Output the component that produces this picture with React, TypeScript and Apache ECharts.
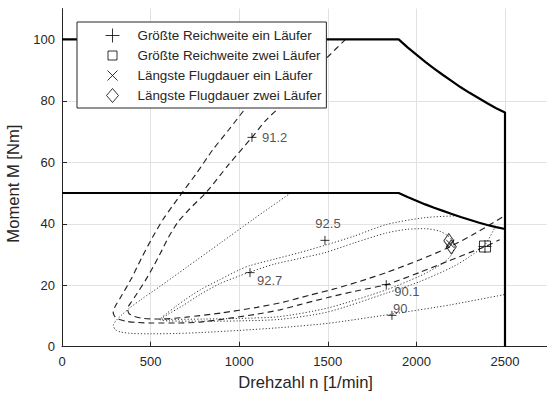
import React, { useEffect, useRef } from 'react';
import * as echarts from 'echarts';

// Axis setup
const speedMax = 2750;
const torqueMax = 110;
const xTickStep = 500;
const yTickStep = 20;
const yTickValues = [0, 20, 40, 60, 80, 100];

// Operating limits [n, M]: upper (100 Nm) and lower (50 Nm) torque envelope
const limitHigh: number[][] = [
  [0, 100], [1900, 100], [1950, 97.4], [2000, 95], [2050, 92.7], [2100, 90.5],
  [2150, 88.4], [2200, 86.4], [2250, 84.4], [2300, 82.6], [2350, 80.9],
  [2400, 79.2], [2450, 77.6], [2500, 76.2], [2500, 0],
];
const limitLow: number[][] = [
  [0, 50], [1900, 50], [1950, 48.7], [2000, 47.5], [2050, 46.3], [2100, 45.2],
  [2150, 44.2], [2200, 43.2], [2250, 42.2], [2300, 41.3], [2350, 40.4],
  [2400, 39.6], [2450, 38.9], [2500, 38.3],
];

// Efficiency contours (dashed)
const contour912: number[][] = [
  [1600, 100], [1495, 94], [1370, 86.5], [1247, 79], [1150, 73.6], [1072, 68.1],
  [940, 59.2], [818, 50.5], [720, 44.8], [655, 40.6], [600, 35.5], [565, 31.5],
  [515, 26], [470, 21.5], [420, 17], [385, 14], [370, 12.5], [378, 10.8],
  [410, 9.8], [460, 9.2], [553, 9.0], [700, 9.6], [900, 11], [1100, 12.8],
  [1250, 14.5], [1400, 16.8], [1550, 19], [1682, 21.3], [1834, 24.2],
  [2020, 28.3], [2178, 32.2], [2330, 36.8], [2500, 42.7],
];
const contour901: number[][] = [
  [1330, 100], [1190, 89], [1044, 78.2], [940, 70.5], [850, 64], [760, 56.5],
  [683, 50.5], [620, 45.5], [570, 41.4], [510, 35.5], [450, 29], [390, 22],
  [330, 16], [299, 13], [288, 11.5], [296, 10], [316, 9], [360, 8.3],
  [420, 7.9], [513, 7.7], [650, 7.7], [779, 8.0], [950, 9.3], [1100, 10.6],
  [1230, 12], [1343, 13.7], [1500, 16], [1650, 18], [1830, 20.2], [2020, 24.2],
  [2178, 27.8], [2300, 30.6], [2390, 32.6], [2470, 34.8],
];

// Efficiency contours (dotted)
const contour90: number[][] = [
  [1290, 50], [1078, 41.4], [900, 34], [700, 25.7], [550, 19.5], [450, 15.5],
  [384, 12.7], [340, 10.5], [305, 8.5], [290, 7], [300, 5.6], [330, 4.8],
  [400, 4.3], [500, 4.2], [650, 4.3], [779, 4.6], [1000, 5.3], [1230, 6.2],
  [1500, 7.6], [1860, 10.6], [2190, 13.6], [2500, 17],
];
const contour925: number[][] = [
  [2230, 42.6], [2050, 42], [1834, 39.8], [1650, 36], [1484, 33], [1340, 30.6],
  [1200, 28.5], [1061, 26.4], [1000, 25], [890, 21.8], [780, 18.5], [700, 15.5],
  [640, 13], [590, 10.8], [560, 9.4], [550, 8.9], [600, 8.4], [800, 8.3],
  [1000, 8.4], [1230, 8.9], [1500, 11.3], [1830, 17.4], [2020, 21.2],
  [2206, 26], [2300, 29.3], [2387, 33.2], [2443, 38.8],
];
const contour927: number[][] = [
  [555, 9.0], [600, 10.6], [680, 13.3], [780, 17], [890, 20.5], [1000, 23],
  [1061, 24.3], [1200, 26.9], [1340, 28.7], [1484, 30.6], [1650, 33.8],
  [1830, 37], [1950, 38.2], [2050, 38.4], [2130, 37.6], [2175, 36.2],
  [2205, 34.5], [2215, 33], [2208, 31], [2190, 29.3], [2160, 27.6],
  [2100, 25.4], [2020, 23], [1830, 18.5], [1500, 12.6], [1230, 9.8],
  [1000, 9.2], [800, 9], [600, 8.9], [555, 9.0],
];

// Contour level labels and their anchor points
const levelPoints: number[][] = [[1072, 68.1], [1484, 34.6], [1061, 24.1], [1830, 20.2], [1862, 10.2]];
const levelTexts = ['91.2', '92.5', '92.7', '90.1', '90'];

// Optimum operating points
const legendNames = [
  'Größte Reichweite ein Läufer',
  'Größte Reichweite zwei Läufer',
  'Längste Flugdauer ein Läufer',
  'Längste Flugdauer zwei Läufer',
];
const rangeOneRotor: number[][] = [[2387, 32.6]];
const rangeTwoRotors: number[][] = [[2387, 32.6]];
const enduranceOneRotor: number[][] = [[2190, 33.5]];
const enduranceTwoRotors: number[][] = [[2183, 34.5], [2197, 32.5]];

const FONT = '"Liberation Sans", Arial, Helvetica, sans-serif';
const TEXT = '#262626';

const plusSymbol = 'path://M5,0L5,10M0,5L10,5';
const crossSymbol = 'path://M0,0L10,10M10,0L0,10';

// legend icons laid out in a 40x14 box (leading moves fix the box)
const legendIcons = [
  'path://M0,0M40,14M13,7L27,7M20,0L20,14',
  'path://M0,0M40,14M15.5,2.5L24.5,2.5L24.5,11.5L15.5,11.5Z',
  'path://M0,0M40,14M15,2L25,12M25,2L15,12',
  'path://M0,0M40,14M20,0L26,7L20,14L14,7Z',
];

const labelPlacement = [
  { position: 'right', offset: [0, 0] },
  { position: 'top', offset: [3, 0] },
  { position: 'right', offset: [-3, 8] },
  { position: 'right', offset: [-2, 7] },
  { position: 'right', offset: [-9, -7] },
];

const hollow = { color: 'rgba(0,0,0,0)', borderColor: '#000', borderWidth: 1 };

function solidLine(data: number[][]) {
  return {
    type: 'line', data, symbol: 'none', silent: true, z: 4,
    lineStyle: { color: '#000', width: 2.2 },
  };
}
function dashedLine(data: number[][]) {
  return {
    type: 'line', data, symbol: 'none', silent: true, smooth: 0.25, z: 3,
    lineStyle: { color: '#222', width: 1.15, type: [6, 4] },
  };
}
function dottedLine(data: number[][]) {
  return {
    type: 'line', data, symbol: 'none', silent: true, smooth: 0.25, z: 3,
    lineStyle: { color: '#3a3a3a', width: 1, type: [1.2, 2] },
  };
}

const plainNumber = (v: number) => String(v);

export default function App() {
  const ref = useRef<HTMLDivElement>(null);

  useEffect(() => {
    if (!ref.current) return;
    const chart = echarts.init(ref.current, null, { renderer: 'svg' });

    const axisCommon = {
      type: 'value',
      axisLine: { show: true, onZero: false, lineStyle: { color: TEXT, width: 1 } },
      axisTick: { show: true, inside: true, length: 5, lineStyle: { color: TEXT } },
      splitLine: { show: true, showMaxLine: false, lineStyle: { color: '#e2e2e2', width: 1 } },
      nameLocation: 'middle',
    };

    chart.setOption({
      animation: false,
      backgroundColor: '#fff',
      grid: {
        left: 62, top: 8.6, width: 487.3, height: 338.1,
        containLabel: false, outerBoundsMode: 'none',
      },
      xAxis: {
        ...axisCommon,
        min: 0, max: speedMax, interval: xTickStep,
        name: 'Drehzahl n [1/min]', nameGap: 27,
        nameTextStyle: { color: TEXT, fontFamily: FONT, fontSize: 16.6 },
        axisLabel: {
          color: TEXT, fontFamily: FONT, fontSize: 13, margin: 8,
          showMaxLabel: false, formatter: plainNumber,
        },
      },
      yAxis: {
        ...axisCommon,
        min: 0, max: torqueMax, interval: yTickStep,
        name: 'Moment M [Nm]', nameGap: 36,
        nameTextStyle: { color: TEXT, fontFamily: FONT, fontSize: 16.6, padding: [0, 12, 0, 0] },
        axisTick: { ...axisCommon.axisTick, customValues: yTickValues },
        axisLabel: {
          color: TEXT, fontFamily: FONT, fontSize: 13, margin: 7,
          showMaxLabel: false, formatter: plainNumber,
        },
      },
      legend: {
        data: legendNames.map((name, i) => ({ name, icon: legendIcons[i] })),
        orient: 'vertical',
        left: 77, top: 22,
        padding: [6, 5, 5, 15],
        itemGap: 5,
        itemWidth: 40, itemHeight: 14,
        backgroundColor: '#fff',
        borderColor: TEXT, borderWidth: 1, borderRadius: 0,
        selectedMode: false,
        itemStyle: hollow,
        textStyle: { color: TEXT, fontFamily: FONT, fontSize: 13.4, lineHeight: 14 },
        z: 10,
      },
      series: [
        solidLine(limitHigh),
        solidLine(limitLow),
        dashedLine(contour912),
        dashedLine(contour901),
        dottedLine(contour90),
        dottedLine(contour925),
        dottedLine(contour927),
        {
          type: 'scatter', silent: true, z: 5,
          symbol: plusSymbol, symbolSize: 9,
          itemStyle: hollow,
          data: levelPoints.map((p, i) => ({
            value: p,
            label: {
              show: true,
              formatter: levelTexts[i],
              position: labelPlacement[i].position,
              offset: labelPlacement[i].offset,
              distance: 5,
              color: TEXT, fontFamily: FONT, fontSize: 13,
            },
          })),
        },
        {
          name: legendNames[0], type: 'scatter', silent: true, z: 6,
          symbol: plusSymbol, symbolSize: 13, itemStyle: hollow, data: rangeOneRotor,
        },
        {
          name: legendNames[1], type: 'scatter', silent: true, z: 6,
          symbol: 'rect', symbolSize: 11, itemStyle: hollow, data: rangeTwoRotors,
        },
        {
          name: legendNames[2], type: 'scatter', silent: true, z: 6,
          symbol: crossSymbol, symbolSize: 8, itemStyle: hollow, data: enduranceOneRotor,
        },
        {
          name: legendNames[3], type: 'scatter', silent: true, z: 6,
          symbol: 'diamond', symbolSize: [10, 14], itemStyle: hollow, data: enduranceTwoRotors,
        },
      ],
    });

    return () => chart.dispose();
  }, []);

  return (
    <div
      ref={ref}
      style={{ position: 'fixed', left: 0, top: 0, width: 550, height: 397 }}
    />
  );
}
